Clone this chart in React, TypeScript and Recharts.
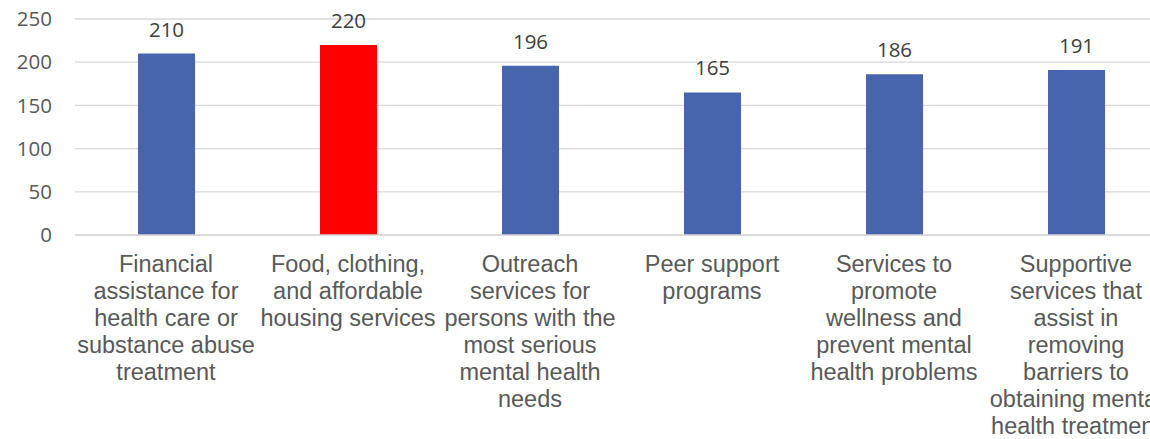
import { BarChart, Bar, Cell, XAxis, YAxis, CartesianGrid, LabelList } from "recharts";

const categories = [
  "Financial assistance for health care or substance abuse treatment",
  "Food, clothing, and affordable housing services",
  "Outreach services for persons with the most serious mental health needs",
  "Peer support programs",
  "Services to promote wellness and prevent mental health problems",
  "Supportive services that assist in removing barriers to obtaining mental health treatment",
];

// how each category label breaks in the picture
const categoryLines = [
  ["Financial", "assistance for", "health care or", "substance abuse", "treatment"],
  ["Food, clothing,", "and affordable", "housing services"],
  ["Outreach", "services for", "persons with the", "most serious", "mental health", "needs"],
  ["Peer support", "programs"],
  ["Services to", "promote", "wellness and", "prevent mental", "health problems"],
  ["Supportive", "services that", "assist in", "removing", "barriers to", "obtaining mental", "health treatment"],
];

const counts = [210, 220, 196, 165, 186, 191];

const yTicks = [0, 50, 100, 150, 200, 250];

const highlighted = "Food, clothing, and affordable housing services";

const data = categories.map((name, i) => ({ name, count: counts[i] }));

function CategoryTick(props: any) {
  const { x, y, payload } = props;
  const idx = categories.indexOf(payload.value);
  const lines = categoryLines[idx] ?? [payload.value];
  return (
    <g>
      {lines.map((line, i) => (
        <text
          key={i}
          x={x}
          y={y + 37 + i * 27}
          textAnchor="middle"
          fill="#595959"
          fontSize={23.5}
          fontFamily="'Liberation Sans', Arial, sans-serif"
        >
          {line}
        </text>
      ))}
    </g>
  );
}

export default function App() {
  return (
    <div
      style={{
        position: "absolute",
        left: 0,
        top: 0,
        width: 1150,
        height: 439,
        overflow: "hidden",
        background: "#fff",
      }}
    >
      <BarChart
        width={1167}
        height={439}
        data={data}
        margin={{ top: 19, right: 0, left: 0, bottom: 0 }}
      >
        <CartesianGrid vertical={false} stroke="#D9D9D9" strokeWidth={1.3} />
        <XAxis
          dataKey="name"
          height={204}
          interval={0}
          tickLine={false}
          tickSize={0}
          tickMargin={0}
          axisLine={{ stroke: "#D9D9D9", strokeWidth: 1.3 }}
          tick={<CategoryTick />}
        />
        <YAxis
          width={75}
          domain={[0, 250]}
          ticks={yTicks}
          tickLine={false}
          axisLine={false}
          tickSize={0}
          tickMargin={23}
          tick={{ fill: "#595959", fontSize: 20.5, fontFamily: "'Open Sans', sans-serif" }}
        />
        <Bar dataKey="count" barSize={57} isAnimationActive={false}>
          {data.map((d, i) => (
            <Cell key={i} fill={d.name === highlighted ? "#FF0000" : "#4765AC"} />
          ))}
          <LabelList
            dataKey="count"
            position="top"
            offset={17}
            fill="#404040"
            fontSize={20.5}
            fontFamily="'Open Sans', sans-serif"
          />
        </Bar>
      </BarChart>
    </div>
  );
}
